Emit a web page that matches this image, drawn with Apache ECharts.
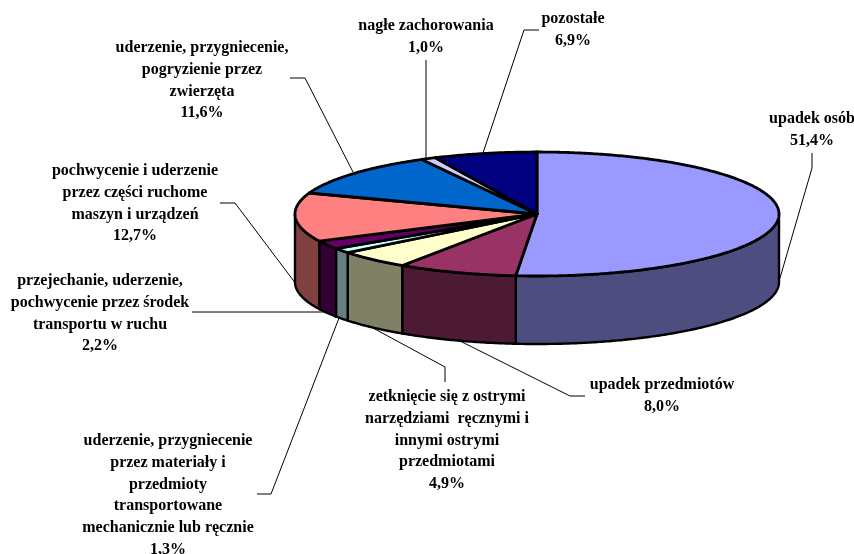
<!DOCTYPE html>
<html>
<head>
<meta charset="utf-8">
<style>
  html, body { margin: 0; padding: 0; background: #ffffff; }
  #main { width: 854px; height: 554px; }
</style>
<script src="https://cdn.jsdelivr.net/npm/echarts@6/dist/echarts.min.js"></script>
</head>
<body>
<div id="main"></div>
<script>
// udział procentowy wypadków wg przyczyny, od godziny 12 zgodnie z zegarem
var categories = [
  "upadek osób",
  "upadek przedmiotów",
  "zetknięcie się z ostrymi\nnarzędziami  ręcznymi i\ninnymi ostrymi\nprzedmiotami",
  "uderzenie, przygniecenie\nprzez materiały i\nprzedmioty\ntransportowane\nmechanicznie lub ręcznie",
  "przejechanie, uderzenie,\npochwycenie przez środek\ntransportu w ruchu",
  "pochwycenie i uderzenie\nprzez części ruchome\nmaszyn i urządzeń",
  "uderzenie, przygniecenie,\npogryzienie przez\nzwierzęta",
  "nagłe zachorowania",
  "pozostałe"
];
var shares = [51.4, 8.0, 4.9, 1.3, 2.2, 12.7, 11.6, 1.0, 6.9];
var shareLabels = ["51,4%", "8,0%", "4,9%", "1,3%", "2,2%", "12,7%", "11,6%", "1,0%", "6,9%"];

var topColors = ["#9999FF", "#993366", "#FFFFCC", "#CCFFFF", "#660066", "#FF8080", "#0066CC", "#CCCCFF", "#000080"];
var sideColors = ["#4D4D80", "#4D1A33", "#808066", "#668080", "#330033", "#804040", "#003366", "#666680", "#000040"];

// geometria placka
var cx = 537, cy = 214, rx = 242, ry = 62, depth = 68;

// srodek i gora kazdego opisu
var labelPos = [
  [812, 108], [662, 374], [447, 386], [168, 430], [100, 270],
  [135, 160], [202, 37], [426, 15], [573, 8]
];
// linie odniesienia
var leaders = [
  [[812, 153], [812, 168], [780, 278]],
  [[585, 396], [570, 396], [460, 341]],
  [[445, 382], [445, 367], [373, 328]],
  [[257, 494], [271, 494], [339, 318]],
  [[192, 312], [206, 312], [325, 312]],
  [[220, 203], [235, 203], [296, 284]],
  [[290, 78], [305, 78], [353, 172]],
  [[426, 60], [426, 158]],
  [[539, 30], [524, 30], [483, 153]]
];

var total = shares.reduce(function (a, b) { return a + b; }, 0);
var cumulative = [0];
shares.forEach(function (v, i) { cumulative.push(cumulative[i] + v); });

function angleOf(v) { return (v / total) * Math.PI * 2; }
function rimPoint(a, dy) {
  return [cx + rx * Math.sin(a), cy - ry * Math.cos(a) + (dy || 0)];
}
function arcPoints(a0, a1, dy) {
  var n = Math.max(2, Math.ceil(Math.abs(a1 - a0) / 0.01));
  var pts = [];
  for (var i = 0; i <= n; i++) pts.push(rimPoint(a0 + (a1 - a0) * i / n, dy));
  return pts;
}

function renderWall(params, api) {
  var i = params.dataIndex;
  var a0 = Math.max(angleOf(cumulative[i]), Math.PI / 2);
  var a1 = Math.min(angleOf(cumulative[i + 1]), Math.PI * 1.5);
  if (a1 <= a0) return null;
  var pts = arcPoints(a0, a1, 0).concat(arcPoints(a1, a0, depth));
  return {
    type: "polygon",
    shape: { points: pts },
    style: { fill: sideColors[i], stroke: "#000000", lineWidth: 2.4, lineJoin: "round" }
  };
}

function renderTop(params, api) {
  var i = params.dataIndex;
  var pts = [[cx, cy]].concat(arcPoints(angleOf(cumulative[i]), angleOf(cumulative[i + 1]), 0));
  return {
    type: "polygon",
    shape: { points: pts },
    style: { fill: topColors[i], stroke: "#000000", lineWidth: 2.8, lineJoin: "round" }
  };
}

function renderLabel(params, api) {
  var i = params.dataIndex;
  return {
    type: "group",
    children: [
      {
        type: "polyline",
        shape: { points: leaders[i] },
        style: { fill: null, stroke: "#000000", lineWidth: 1 },
        z2: 1
      },
      {
        type: "text",
        x: labelPos[i][0],
        y: labelPos[i][1],
        style: {
          text: categories[i] + "\n" + shareLabels[i],
          fill: "#000000",
          font: 'bold 16px "Liberation Serif"',
          align: "center",
          verticalAlign: "top",
          lineHeight: 21.8
        },
        z2: 2
      }
    ]
  };
}

var chart = echarts.init(document.getElementById("main"));
var pieData = shares.map(function (v, i) { return { name: categories[i], value: v }; });
chart.setOption({
  backgroundColor: "#ffffff",
  animation: false,
  series: [
    { type: "custom", name: "etykiety", z: 1, coordinateSystem: "none", renderItem: renderLabel, data: pieData, silent: true },
    { type: "custom", name: "bok", z: 2, coordinateSystem: "none", renderItem: renderWall, data: pieData },
    { type: "custom", name: "wierzch", z: 3, coordinateSystem: "none", renderItem: renderTop, data: pieData }
  ]
});
</script>
</body>
</html>
